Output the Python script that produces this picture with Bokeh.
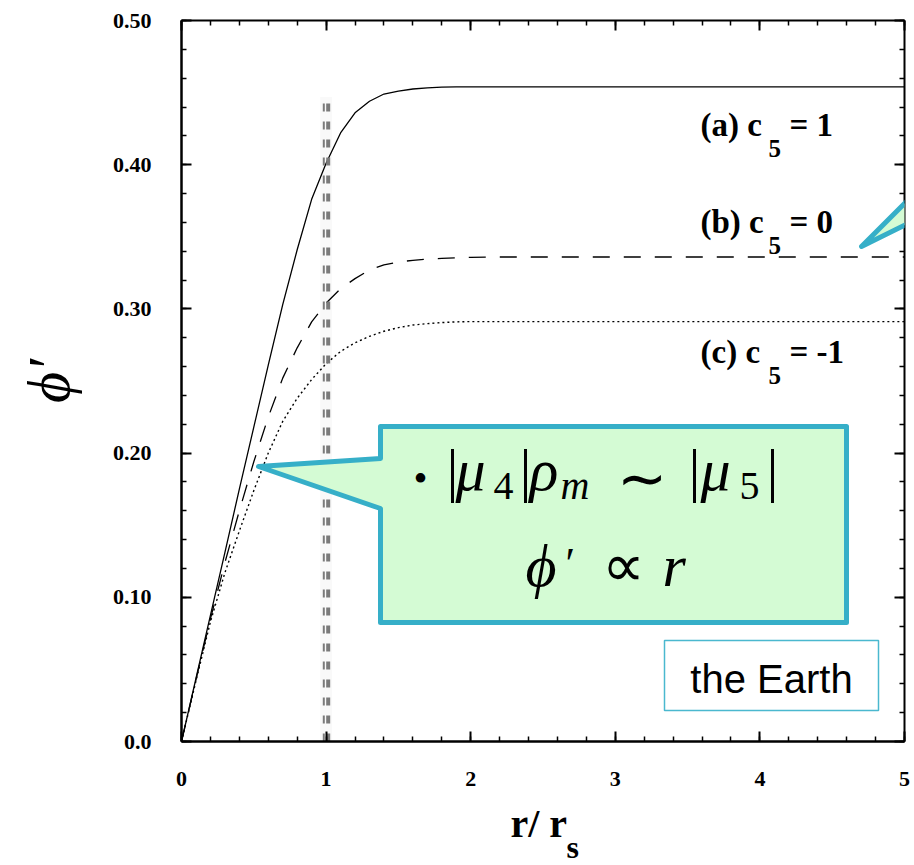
import math
from bokeh.plotting import figure
from bokeh.layouts import column
from bokeh.models import (Range1d, LinearAxis, FixedTicker, Label, PolyAnnotation,
                          BoxAnnotation, PrintfTickFormatter)
from bokeh.core.properties import value
from bokeh.embed import file_html
from bokeh.resources import INLINE

# ---------------- data ----------------
r = [0.0, 0.1, 0.2, 0.3, 0.4, 0.5, 0.6, 0.7, 0.8, 0.9, 1.0, 1.1, 1.2, 1.3, 1.4,
     1.5, 1.6, 1.7, 1.8, 1.9, 2.0, 2.2, 2.5, 3.0, 4.0, 5.0]
phi_a = [0.0, 0.0437, 0.0874, 0.131, 0.175, 0.218, 0.261, 0.303, 0.341, 0.376,
         0.401, 0.422, 0.436, 0.444, 0.449, 0.451, 0.4525, 0.4533, 0.4538, 0.454,
         0.454, 0.454, 0.454, 0.454, 0.454, 0.454]
phi_b = [0.0, 0.043, 0.085, 0.124, 0.160, 0.194, 0.225, 0.252, 0.273, 0.291,
         0.304, 0.314, 0.321, 0.327, 0.3305, 0.3325, 0.3337, 0.3345, 0.335, 0.3355,
         0.3357, 0.336, 0.336, 0.336, 0.336, 0.336]
phi_c = [0.0, 0.042, 0.083, 0.117, 0.146, 0.174, 0.200, 0.222, 0.238, 0.251,
         0.262, 0.2705, 0.2765, 0.281, 0.2845, 0.287, 0.2888, 0.2898, 0.2905, 0.291,
         0.2912, 0.2912, 0.2912, 0.2912, 0.2912, 0.2912]

x_ticks = [0, 1, 2, 3, 4, 5]
y_ticks = [0.0, 0.1, 0.2, 0.3, 0.4, 0.5]
y_zero_label = "0.0"
r_marker = 1.0          # r = r_s
marker_top = 0.447

series_names = ["(a) c", "(b) c", "(c) c"]
series_values = ["= 1", "= 0", "= -1"]

x_title = "r/ r"
x_title_sub = "s"
y_title = "\u03d5\u2032"

# ---------------- layout helpers (pixel -> data) ----------------
W, H = 914, 865
H1 = 800
FL, FR, FT, FB = 181, 904, 20, 741
def dx(px):
    return (px - FL) / (FR - FL) * 5.0
def dy(py):
    return (FB - py) / (FB - FT) * 0.5

p = figure(width=W, height=H1, x_range=Range1d(0, 5), y_range=Range1d(0, 0.5),
           output_backend="svg", toolbar_location=None,
           min_border_left=FL, min_border_right=W - FR, min_border_top=FT,
           min_border_bottom=H1 - FB)
p.grid.visible = False
p.outline_line_color = None
p.background_fill_color = "white"
p.border_fill_color = "white"

minor_x = [i * 0.2 for i in range(26)]
minor_y = [i * 0.02 for i in range(26)]

def style_axis(ax, ticks, minor, lw, labels=True):
    ax.ticker = FixedTicker(ticks=ticks, minor_ticks=minor)
    ax.major_tick_in = 10
    ax.major_tick_out = 0
    ax.minor_tick_in = 5
    ax.minor_tick_out = 0
    ax.axis_line_width = lw
    ax.axis_line_color = "black"
    ax.major_tick_line_width = 2
    ax.minor_tick_line_width = 1.5
    if labels:
        ax.major_label_text_font = "Liberation Serif"
        ax.major_label_text_font_style = "bold"
        ax.major_label_text_font_size = "22px"
        ax.major_label_text_color = "black"
        ax.major_label_standoff = 30
    else:
        ax.major_label_overrides = {t: "" for t in ticks}
        ax.major_label_text_font_size = "1px"
        ax.major_label_standoff = 0

style_axis(p.xaxis[0], x_ticks, minor_x, 2.5)
style_axis(p.yaxis[0], y_ticks, minor_y, 2.5)
p.yaxis[0].formatter = PrintfTickFormatter(format="%.2f")
p.yaxis[0].major_label_overrides = {0: y_zero_label}
p.yaxis[0].axis_label = y_title
p.yaxis[0].axis_label_text_font = "Liberation Serif"
p.yaxis[0].axis_label_text_font_style = "italic"
p.yaxis[0].axis_label_text_font_size = "60px"
p.yaxis[0].axis_label_text_color = "black"
p.yaxis[0].axis_label_standoff = 28

top_ax = LinearAxis()
right_ax = LinearAxis()
style_axis(top_ax, x_ticks, minor_x, 2, labels=False)
style_axis(right_ax, y_ticks, minor_y, 2, labels=False)
p.add_layout(top_ax, "above")
p.add_layout(right_ax, "right")

# ---------------- curves ----------------
p.line(r, phi_a, line_color="black", line_width=1.3)
p.line(r, phi_b, line_color="black", line_width=1.3, line_dash="17 14")
p.line(r, phi_c, line_color="black", line_width=1.4, line_dash="2 3")

# ---------------- r = r_s marker ----------------
p.line([r_marker, r_marker], [0, marker_top], line_color="black", line_alpha=0.025, line_width=12)
p.line([r_marker - 0.016] * 2, [0, marker_top], line_color="#7a7a7a", line_width=2, line_dash="8 10")
p.line([r_marker + 0.0145] * 2, [0, marker_top], line_color="#7a7a7a", line_width=4, line_dash="8 10")

# ---------------- callouts ----------------
teal = "#36afc8"
green = "#d4fbd4"
c1 = [(380, 426), (846, 426), (846, 622), (380, 622), (380, 508), (258, 466), (380, 458)]
p.add_layout(PolyAnnotation(xs=[dx(a) for a, b in c1], ys=[dy(b) for a, b in c1],
                            fill_color=green, fill_alpha=1, line_color=teal, line_alpha=1,
                            line_width=5, line_join="round"))
c2 = [(861, 246), (950, 157), (950, 202)]
p.add_layout(PolyAnnotation(xs=[dx(a) for a, b in c2], ys=[dy(b) for a, b in c2],
                            fill_color=green, fill_alpha=1, line_color=teal, line_alpha=1,
                            line_width=5, line_join="round"))

SHIFT = 0.35
def lab(text, px, py, size, font="Liberation Serif", style="normal", align="left",
        baseline="alphabetic"):
    yy = py - SHIFT * size if baseline == "alphabetic" else py
    p.add_layout(Label(x=dx(px), y=dy(yy), text=text, text_font=font,
                       text_font_size=f"{size}px", text_font_style=style,
                       text_align=align, text_baseline=baseline, text_color="black"))

# formula pieces
S, s = 60, 40
lab("\u2022", 420, 478, 40, align="center", baseline="middle")
lab("|", 446, 490, S)
lab("\u03bc", 455, 490, S, style="italic")
lab("4", 493, 499, s)
lab("|", 519, 490, S)
lab("\u03c1", 529, 490, S, style="italic")
lab("m", 560, 499, s, style="italic")
lab("\u223c", 641, 478, S, align="center", baseline="middle")
lab("|", 688, 490, S)
lab("\u03bc", 700, 490, S, style="italic")
lab("5", 739, 499, s)
lab("|", 766, 490, S)
lab("\u03d5", 525, 586, S, style="italic")
lab("\u2032", 565, 578, 44)
lab("\u221d", 623, 586, S, align="center")
lab("r", 662, 586, S, style="italic")

# the Earth box
p.add_layout(BoxAnnotation(left=dx(664), right=dx(878), top=dy(640), bottom=dy(710),
                           fill_color="white", fill_alpha=1, line_color="#4ab8cf",
                           line_alpha=1, line_width=1.5))
lab("the Earth", 771, 678, 40, font="Liberation Sans", align="center", baseline="middle")

# series labels
for name, val, base in zip(series_names, series_values, [136, 233, 363]):
    lab(name, 700, base, 33, style="bold")
    lab("5", 768, base + 21, 25, style="bold")
    lab(val, 789, base, 33, style="bold")

# ---------------- x-axis title strip (frame aligned with the plot above) ----------------
H2 = H - H1
q = figure(width=W, height=H2, x_range=p.x_range, y_range=Range1d(H2, 0),
           output_backend="svg", toolbar_location=None, x_axis_type=None,
           y_axis_type=None, min_border_left=FL, min_border_right=W - FR,
           min_border_top=0, min_border_bottom=0)
q.grid.visible = False
q.outline_line_color = None
q.background_fill_color = "white"
q.border_fill_color = "white"
q.text(x=[dx(510)], y=[837 - H1 - SHIFT * 40], text=[x_title],
       text_font=value("Liberation Serif"), text_font_style="bold",
       text_font_size="40px", text_baseline="alphabetic", text_color="black")
q.text(x=[dx(566)], y=[858 - H1 - SHIFT * 32], text=[x_title_sub],
       text_font=value("Liberation Serif"), text_font_style="bold",
       text_font_size="32px", text_baseline="alphabetic", text_color="black")

layout = column(p, q, spacing=0)
open("out.html", "w").write(file_html(layout, INLINE))
